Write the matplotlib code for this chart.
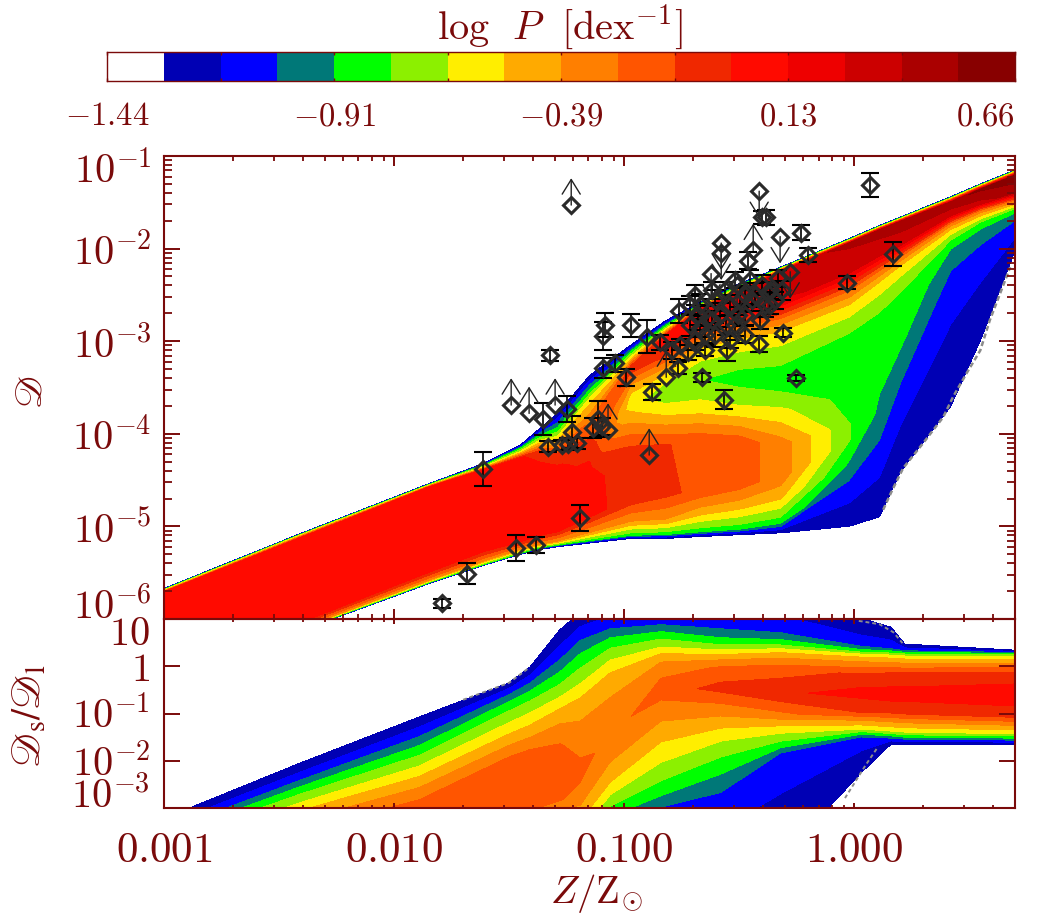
import matplotlib
matplotlib.use('Agg')
import matplotlib.pyplot as plt
from matplotlib.colors import ListedColormap, BoundaryNorm
from matplotlib.ticker import LogLocator, NullFormatter
import numpy as np

plt.rcParams['mathtext.fontset'] = 'cm'
plt.rcParams['font.family'] = ['DejaVu Sans']

dark_red = '#7a0a0a'
W, H = 1052.0, 921.0

# colour bar
bar_colors = ['#ffffff', '#0000b4', '#0000ff', '#007878', '#00ff00', '#8cf000', '#ffee00', '#ffaa00',
              '#ff7f00', '#ff5500', '#f02800', '#ff0a00', '#ee0000', '#cc0000', '#aa0000', '#880000']
bar_min, bar_max = -1.44, 0.66
bar_labels = ['$-1.44$', '$-0.91$', '$-0.39$', '$0.13$', '$0.66$']

# density map upper panel, one row per column, edges of the band and features inside it
top_logz = [-3.0, -2.41, -1.84, -1.61, -1.45, -1.37, -1.29, -1.15, -0.97, -0.82, -0.67, -0.50, -0.32, -0.02, 0.11, 0.20, 0.42, 0.55, 0.70]
top_logd = [
    [-5.67, -5.68, -5.69, -5.71, -6.01, -6.12, -6.23, -6.34, -6.39, -6.44, -6.55, -6.64, -6.66, -6.67],
    [-5.08, -5.09, -5.10, -5.13, -5.36, -5.47, -5.63, -5.74, -5.85, -5.96, -6.03, -6.10, -6.12, -6.13],
    [-4.53, -4.54, -4.55, -4.57, -4.77, -4.88, -4.99, -5.09, -5.20, -5.31, -5.47, -5.57, -5.60, -5.61],
    [-4.32, -4.34, -4.36, -4.39, -4.55, -4.66, -4.77, -4.88, -4.99, -5.09, -5.25, -5.37, -5.41, -5.42],
    [-4.12, -4.16, -4.20, -4.26, -4.45, -4.55, -4.66, -4.77, -4.88, -4.99, -5.15, -5.24, -5.29, -5.30],
    [-3.95, -4.03, -4.09, -4.20, -4.39, -4.50, -4.61, -4.72, -4.82, -4.93, -5.08, -5.19, -5.23, -5.25],
    [-3.78, -3.96, -4.05, -4.23, -4.39, -4.50, -4.61, -4.72, -4.82, -4.93, -5.04, -5.16, -5.20, -5.22],
    [-3.37, -3.55, -3.64, -3.85, -3.96, -4.07, -4.18, -4.28, -4.39, -4.61, -4.88, -5.07, -5.15, -5.18],
    [-3.04, -3.12, -3.18, -3.27, -3.33, -3.44, -3.58, -3.67, -3.78, -4.18, -4.72, -4.95, -5.09, -5.13],
    [-2.78, -2.84, -2.88, -2.94, -3.10, -3.26, -3.40, -3.55, -3.74, -4.12, -4.66, -4.93, -5.08, -5.13],
    [-2.58, -2.60, -2.62, -2.66, -2.83, -2.97, -3.10, -3.42, -3.72, -4.07, -4.61, -4.84, -5.05, -5.11],
    [-2.38, -2.40, -2.43, -2.47, -2.68, -2.86, -3.01, -3.40, -3.74, -4.07, -4.55, -4.77, -5.02, -5.09],
    [-2.20, -2.21, -2.22, -2.25, -2.58, -2.77, -2.93, -3.42, -3.76, -4.12, -4.48, -4.69, -4.95, -5.07],
    [-1.89, -1.90, -1.91, -1.94, -2.25, -2.47, -2.64, -3.04, -3.58, -3.90, -4.07, -4.34, -4.50, -5.00],
    [-1.75, -1.76, -1.77, -1.80, -2.07, -2.25, -2.39, -2.83, -3.20, -3.47, -3.74, -3.96, -4.12, -4.90],
    [-1.66, -1.67, -1.68, -1.71, -1.96, -2.10, -2.21, -2.56, -2.83, -3.04, -3.26, -3.47, -3.74, -4.42],
    [-1.44, -1.45, -1.46, -1.50, -1.64, -1.73, -1.81, -1.94, -2.04, -2.14, -2.29, -2.50, -2.83, -3.71],
    [-1.30, -1.31, -1.32, -1.36, -1.51, -1.59, -1.66, -1.73, -1.82, -1.91, -2.02, -2.18, -2.45, -2.99],
    [-1.15, -1.16, -1.17, -1.21, -1.39, -1.48, -1.53, -1.58, -1.63, -1.67, -1.73, -1.82, -1.91, -2.02],
]
top_logp = [
    [-1.31, -0.85, -0.58, 0.08, 0.08, 0.08, 0.08, 0.08, 0.08, 0.08, 0.08, -0.35, -0.85, -1.31],
    [-1.31, -0.85, -0.58, 0.08, 0.08, 0.08, 0.08, 0.08, 0.08, 0.08, 0.08, -0.35, -0.85, -1.31],
    [-1.31, -0.85, -0.58, 0.08, 0.08, 0.08, 0.08, 0.08, 0.08, 0.08, 0.08, -0.35, -0.85, -1.31],
    [-1.31, -0.85, -0.58, 0.08, 0.08, 0.08, 0.08, 0.08, 0.08, 0.08, 0.08, -0.35, -0.85, -1.31],
    [-1.31, -0.85, -0.58, 0.02, 0.08, 0.08, 0.08, 0.08, 0.08, 0.08, 0.08, -0.35, -0.85, -1.31],
    [-1.31, -0.85, -0.58, -0.05, 0.05, 0.08, 0.08, 0.08, 0.08, 0.08, 0.08, -0.35, -0.85, -1.31],
    [-1.31, -0.85, -0.58, -0.08, 0.04, 0.08, 0.08, 0.08, 0.08, 0.08, 0.08, -0.40, -0.85, -1.31],
    [-1.31, -0.85, -0.58, -0.30, -0.20, -0.12, -0.05, 0.0, 0.03, 0.05, 0.05, -0.40, -0.85, -1.31],
    [-1.31, -0.85, -0.58, -0.10, -0.10, -0.35, -0.55, -0.60, -0.50, -0.08, -0.06, -0.40, -0.85, -1.31],
    [-1.31, -0.85, -0.58, 0.05, 0.0, -0.35, -0.60, -0.75, -0.60, -0.12, -0.10, -0.40, -0.85, -1.31],
    [-1.31, -0.85, -0.58, 0.20, 0.10, -0.30, -0.58, -0.78, -0.60, -0.17, -0.16, -0.45, -0.85, -1.31],
    [-1.31, -0.85, -0.58, 0.28, 0.15, -0.30, -0.58, -0.85, -0.62, -0.20, -0.20, -0.45, -0.85, -1.31],
    [-1.31, -0.85, -0.58, 0.35, 0.25, -0.30, -0.58, -0.88, -0.62, -0.32, -0.32, -0.50, -0.85, -1.31],
    [-1.31, -0.85, -0.58, 0.42, 0.30, -0.30, -0.58, -0.88, -0.85, -0.78, -0.78, -0.95, -1.05, -1.31],
    [-1.31, -0.85, -0.58, 0.45, 0.30, -0.30, -0.58, -0.88, -0.88, -0.90, -0.94, -1.00, -1.07, -1.31],
    [-1.31, -0.85, -0.58, 0.48, 0.30, -0.30, -0.58, -0.85, -0.87, -0.90, -0.97, -1.05, -1.13, -1.31],
    [-1.31, -0.85, -0.58, 0.50, 0.30, -0.30, -0.58, -0.85, -0.95, -1.00, -1.07, -1.12, -1.18, -1.31],
    [-1.31, -0.85, -0.58, 0.55, 0.35, -0.30, -0.58, -0.85, -0.95, -1.02, -1.08, -1.13, -1.20, -1.31],
    [-1.31, -0.85, -0.58, 0.60, 0.45, -0.30, -0.58, -0.85, -0.95, -1.02, -1.08, -1.13, -1.20, -1.31],
]

# density map lower panel
low_logz = [-2.89, -2.41, -1.89, -1.50, -1.41, -1.28, -1.19, -1.06, -0.84, -0.58, -0.32, 0.03, 0.16, 0.22, 0.70]
low_logr = [
    [-3.0, -3.25, -3.46, -3.74, -3.89, -4.10, -4.52, -4.95, -5.37, -5.58, -5.79, -6.0, -6.22],
    [-2.05, -2.36, -2.62, -2.96, -3.15, -3.57, -3.99, -4.42, -4.84, -5.05, -5.26, -5.47, -5.69],
    [-1.07, -1.41, -1.77, -2.20, -2.45, -2.94, -3.46, -4.10, -4.52, -4.84, -5.05, -5.26, -5.47],
    [-0.35, -0.54, -0.82, -1.29, -1.56, -2.03, -2.51, -3.04, -3.68, -4.10, -4.42, -4.63, -4.84],
    [-0.02, -0.29, -0.61, -1.09, -1.39, -1.88, -2.36, -2.94, -3.46, -3.89, -4.21, -4.42, -4.63],
    [0.77, 0.24, -0.25, -0.76, -1.03, -1.67, -2.20, -2.83, -3.15, -3.57, -3.89, -4.10, -4.31],
    [1.15, 0.66, 0.13, -0.50, -0.82, -1.67, -2.20, -2.72, -3.08, -3.46, -3.78, -3.99, -4.21],
    [1.40, 0.87, 0.51, 0.03, -0.29, -1.03, -1.45, -1.88, -2.30, -2.62, -3.08, -3.46, -3.78],
    [1.51, 0.94, 0.66, 0.34, 0.20, -0.08, -0.50, -0.97, -1.35, -1.88, -2.62, -3.08, -3.46],
    [1.61, 0.87, 0.51, 0.30, 0.20, -0.02, -0.46, -0.86, -1.18, -1.45, -2.09, -2.83, -4.52],
    [1.61, 0.77, 0.49, 0.34, 0.24, -0.04, -0.57, -1.03, -1.18, -1.35, -1.67, -1.88, -4.10],
    [1.02, 0.45, 0.32, 0.24, 0.15, -0.18, -0.57, -0.97, -1.18, -1.31, -1.41, -1.52, -2.26],
    [0.83, 0.39, 0.30, 0.22, 0.13, -0.18, -0.61, -0.97, -1.22, -1.35, -1.45, -1.54, -1.65],
    [0.47, 0.34, 0.28, 0.20, 0.11, -0.18, -0.61, -0.99, -1.24, -1.37, -1.48, -1.56, -1.65],
    [0.34, 0.30, 0.26, 0.20, 0.11, -0.18, -0.65, -1.05, -1.29, -1.41, -1.50, -1.58, -1.65],
]
low_peak = [
    [-0.25, -0.25, -0.25], [-0.22, -0.20, -0.20], [-0.20, -0.20, -0.20], [-0.20, -0.13, -0.20],
    [-0.20, -0.13, -0.20], [-0.25, -0.15, -0.25], [-0.30, -0.22, -0.30], [-0.33, -0.30, -0.36],
    [-0.30, -0.20, -0.33], [-0.25, -0.08, -0.30], [-0.20, -0.02, -0.30], [-0.10, 0.05, -0.12],
    [-0.08, 0.06, -0.10], [-0.08, 0.06, -0.10], [-0.05, 0.08, -0.08],
]
low_upper_p = [-1.31, -1.10, -0.85, -0.60, -0.45]
low_lower_p = [-0.45, -0.60, -0.85, -1.10, -1.31]

# gray speckle along the edges of the maps
speck_top_logz = [0.126, 0.165, 0.213, 0.30, 0.387, 0.43, 0.49, 0.548, 0.59, 0.635, 0.678]
speck_top_logd = [-4.82, -4.61, -4.37, -4.10, -3.82, -3.60, -3.34, -3.10, -2.77, -2.48, -2.20]
speck_low_a_logz = [-0.04, 0.004, 0.05, 0.10]
speck_low_a_logr = [-2.79, -2.45, -2.09, -1.73]
speck_low_b_logz = [0.02, 0.11, 0.17, 0.21]
speck_low_b_logr = [0.96, 0.89, 0.72, 0.49]
speck_low_c_logz = [-1.70, -1.50, -1.41]
speck_low_c_logr = [-0.71, -0.35, -0.02]

# observations with error bars
err_logz = [-1.613, -1.191, -1.47, -1.383, -1.683, -1.791, -1.322, -1.352, -1.248, -1.226, -1.33, -1.27, -1.204, -1.243,
            -1.113, -1.135, -1.096, -0.991, -1.091, -1.039, -1.083, -1.09, -0.97, -0.90, -0.878, -0.765, -0.791, -0.661,
            -0.843, -0.413, -0.552, -0.565, -0.309, -0.252, -0.03, 0.17, 0.07, -0.23, -0.20, -0.383, -0.40, -0.461,
            -0.761, -0.691, -0.67, -0.635, -0.604, -0.713, -0.583, -0.539, -0.496, -0.517, -0.474, -0.43, -0.40, -0.452,
            -0.365, -0.561, -0.648, -0.691, -0.604, -0.474, -0.539, -0.343, -0.757, -0.722, -0.648, -0.387,
            -0.617, -0.678, -0.557, -0.443, -0.517, -0.365, -0.474, -0.617, -0.713, -0.313, -0.409, -0.67, -0.504, -0.33]
err_logd = [-4.38, -4.91, -5.23, -5.20, -5.51, -5.83, -3.15, -3.84, -3.73, -3.98, -4.14, -4.12, -4.10, -4.11,
            -3.84, -3.94, -3.92, -3.39, -3.29, -3.24, -2.83, -2.94, -2.83, -2.95, -3.55, -3.29, -3.10, -3.39,
            -3.01, -3.03, -3.10, -3.63, -2.91, -3.40, -2.37, -2.06, -1.31, -1.83, -2.07, -1.66, -1.66, -2.13,
            -2.67, -2.50, -2.61, -2.75, -2.56, -2.83, -2.72, -2.61, -2.56, -2.83, -2.72, -2.50, -2.39, -2.34,
            -2.45, -2.45, -2.93, -2.99, -2.93, -2.93, -2.99, -2.56, -3.04, -3.12, -3.10, -2.61,
            -2.45, -2.72, -2.83, -2.56, -2.34, -2.61, -2.50, -2.77, -2.61, -2.45, -2.77, -2.86, -2.72, -2.32]
err_dex = [0.18, 0.14, 0.14, 0.09, 0.11, 0.05, 0.06, 0.17, 0.14, 0.17, 0.06, 0.05, 0.06, 0.06,
           0.19, 0.11, 0.09, 0.09, 0.11, 0.09, 0.13, 0.15, 0.12, 0.18, 0.09, 0.06, 0.09, 0.05,
           0.08, 0.09, 0.11, 0.10, 0.05, 0.03, 0.07, 0.13, 0.13, 0.08, 0.08, 0.08, 0.07, 0.09,
           0.13, 0.11, 0.12, 0.13, 0.11, 0.11, 0.13, 0.11, 0.13, 0.11, 0.11, 0.13, 0.11, 0.11,
           0.09, 0.09, 0.09, 0.11, 0.13, 0.09, 0.08, 0.09, 0.06, 0.08, 0.06, 0.13,
           0.09, 0.11, 0.10, 0.11, 0.09, 0.10, 0.10, 0.10, 0.10, 0.10, 0.10, 0.10, 0.09, 0.09]

# lower limits (arrow up) and upper limits (arrow down)
up_logz = [-1.491, -1.413, -1.30, -1.07, -0.891, -1.23, -0.817, -0.439]
up_logd = [-3.69, -3.78, -3.69, -3.96, -4.23, -1.53, -3.39, -2.02]
down_logz = [-0.413, -0.578, -0.578, -0.622, -0.322, -0.278, -0.374, -0.509]
down_logd = [-1.38, -1.94, -2.05, -2.27, -1.87, -2.25, -2.48, -2.39]
arrow_dex = 0.29

top_ticks_y = [-1, -2, -3, -4, -5, -6]
top_labels_y = ['$10^{-1}$', '$10^{-2}$', '$10^{-3}$', '$10^{-4}$', '$10^{-5}$', '$10^{-6}$']
top_label_drop = [27, 16, 16, 16, 16, 0]
low_ticks_y = [1, 0, -1, -2, -3]
low_labels_y = ['$10$', '$1$', '$10^{-1}$', '$10^{-2}$', '$10^{-3}$']
low_label_drop = [26, 15, 14, 15, 0]
x_ticks = [0.001, 0.01, 0.1, 1.0]
x_labels = ['$0.001$', '$0.010$', '$0.100$', '$1.000$']

levels = np.linspace(bar_min, bar_max, len(bar_colors) + 1)
cmap = ListedColormap(bar_colors)
norm = BoundaryNorm(levels, cmap.N)


def rect(left, top, right, bottom):
    return [left / W, 1 - bottom / H, (right - left) / W, (bottom - top) / H]


fig = plt.figure(figsize=(W / 100, H / 100), dpi=100)

# maps go on plain axes in log units, below the real log axes
map_top = fig.add_axes(rect(164, 156, 1015, 619))
map_low = fig.add_axes(rect(164, 619, 1015, 808))
X = np.tile(top_logz, (np.shape(top_logd)[1], 1)).T
map_top.contourf(X, np.array(top_logd), np.array(top_logp), levels=levels, cmap=cmap, norm=norm)
map_top.plot(speck_top_logz, speck_top_logd, color='#8c8c8c', lw=1.8, ls=(0, (2, 1.2)))
map_top.set_xlim(-3, np.log10(5))
map_top.set_ylim(-6, -1)
map_top.axis('off')

low_p = [low_upper_p + p + low_lower_p for p in low_peak]
X = np.tile(low_logz, (np.shape(low_logr)[1], 1)).T
map_low.contourf(X, np.array(low_logr), np.array(low_p), levels=levels, cmap=cmap, norm=norm)
for zz, rr in [(speck_low_a_logz, speck_low_a_logr), (speck_low_b_logz, speck_low_b_logr), (speck_low_c_logz, speck_low_c_logr)]:
    map_low.plot(zz, rr, color='#8c8c8c', lw=1.4, ls=(0, (2, 1.5)))
map_low.set_xlim(-3, np.log10(5))
map_low.set_ylim(-3, 1)
map_low.axis('off')

ax = fig.add_axes(rect(164, 156, 1015, 619))
ax2 = fig.add_axes(rect(164, 619, 1015, 808))
for a in (ax, ax2):
    a.patch.set_alpha(0)
    a.set_xscale('log')
    a.set_yscale('log')
    a.set_xlim(0.001, 5)
    for s in a.spines.values():
        s.set_linewidth(1.5)
        s.set_color(dark_red)
    a.set_xticks(x_ticks)
    a.xaxis.set_minor_locator(LogLocator(base=10, subs=range(2, 10), numticks=20))
    a.xaxis.set_minor_formatter(NullFormatter())
ax.set_ylim(1e-6, 1e-1)
ax2.set_ylim(1e-3, 10)

ax.set_yticks([10.0 ** v for v in top_ticks_y])
ax.yaxis.set_minor_locator(LogLocator(base=10, subs=range(2, 10), numticks=20))
ax.yaxis.set_minor_formatter(NullFormatter())
ax.set_xticklabels([])
ax.set_yticklabels([])
ax.tick_params(axis='x', which='major', direction='in', top=True, right=True, length=7.2, width=1.4, color=dark_red)
ax.tick_params(axis='x', which='minor', direction='in', top=True, length=3.6, width=1.3, color=dark_red)
ax.tick_params(axis='y', which='major', direction='in', right=True, length=11.5, width=1.4, color=dark_red)
ax.tick_params(axis='y', which='minor', direction='in', right=True, length=5.8, width=1.3, color=dark_red)

ax2.set_yticks([10.0 ** v for v in low_ticks_y])
ax2.yaxis.set_minor_locator(plt.NullLocator())
ax2.set_yticklabels([])
ax2.set_xticklabels(x_labels)
ax2.tick_params(axis='x', which='major', direction='in', top=True, length=3.6, width=1.4, color=dark_red,
                labelsize=31, labelcolor=dark_red, pad=15)
ax2.tick_params(axis='x', which='minor', direction='in', top=True, length=2.2, width=1.3, color=dark_red)
ax2.tick_params(axis='y', which='major', direction='in', right=True, length=11.5, width=1.4, color=dark_red)

for v, lab, drop in zip(top_ticks_y, top_labels_y, top_label_drop):
    ax.annotate(lab, xy=(0, 10.0 ** v), xycoords=('axes fraction', 'data'), xytext=(-9, -drop / 1.389),
                textcoords='offset points', ha='right', va='baseline', fontsize=29, color=dark_red)
for v, lab, drop in zip(low_ticks_y, low_labels_y, low_label_drop):
    ax2.annotate(lab, xy=(0, 10.0 ** v), xycoords=('axes fraction', 'data'), xytext=(-10, -drop / 1.389),
                 textcoords='offset points', ha='right', va='baseline', fontsize=29, color=dark_red)

# observations
z = 10.0 ** np.array(err_logz)
d = 10.0 ** np.array(err_logd)
lo = d - 10.0 ** (np.array(err_logd) - np.array(err_dex))
hi = 10.0 ** (np.array(err_logd) + np.array(err_dex)) - d
ax.errorbar(z, d, yerr=[lo, hi], fmt='none', ecolor='black', elinewidth=1.2, capsize=6.7, capthick=1.5, zorder=5)
for zz, dd, sign in [(up_logz, up_logd, 1), (down_logz, down_logd, -1)]:
    for a_z, a_d in zip(zz, dd):
        ax.annotate('', xy=(10.0 ** a_z, 10.0 ** (a_d + sign * arrow_dex)), xytext=(10.0 ** a_z, 10.0 ** a_d),
                    arrowprops=dict(arrowstyle='->,head_length=10.5,head_width=6.5', mutation_scale=1, lw=1.0,
                                    color='#222222', shrinkA=0, shrinkB=0), zorder=5)
all_z = 10.0 ** np.array(err_logz + up_logz + down_logz)
all_d = 10.0 ** np.array(err_logd + up_logd + down_logd)
ax.plot(all_z, all_d, ls='none', marker='D', ms=8.2, mfc='none', mec='#2a2a2a', mew=2.2, zorder=6)

# y and x titles
fig.text(31 / W, 1 - 392 / H, r'$\mathscr{D}$', math_fontfamily='stix', color=dark_red, fontsize=27, rotation=90,
         ha='center', va='center')
fig.text(30 / W, 1 - 716 / H, r'$\mathscr{D}_{\mathrm{s}}/\mathscr{D}_{\mathrm{l}}$', math_fontfamily='stix',
         color=dark_red, fontsize=28.5, rotation=90, ha='center', va='center')
fig.text(597 / W, 1 - 893 / H, r'$Z/\mathrm{Z}_{\odot}$', color=dark_red, fontsize=28, ha='center', va='center')

# colour bar
cax = fig.add_axes(rect(107, 52.5, 1015, 81))
cax.pcolormesh(levels, [0, 1], 0.5 * (levels[:-1] + levels[1:])[None, :], cmap=cmap, norm=norm)
cax.set_yticks([])
cax.set_xlim(bar_min, bar_max)
cax.set_xticks(levels[::4])
cax.set_xticklabels(bar_labels)
cax.set_xticks(levels[2::4], minor=True)
cax.tick_params(axis='x', which='major', direction='in', top=True, length=2, width=1, color=dark_red,
                labelsize=23.5, labelcolor=dark_red, pad=13)
cax.tick_params(axis='x', which='minor', direction='in', top=True, length=2, width=1, color=dark_red)
cax.get_xticklabels()[-1].set_ha('right')
for s in cax.spines.values():
    s.set_linewidth(1.0)
    s.set_color(dark_red)
fig.text(560 / W, 1 - 27 / H, r'$\mathrm{log}\ \ P\ \ [\mathrm{dex}^{-1}]$', color=dark_red, fontsize=29,
         ha='center', va='center')

fig.savefig('out.png', dpi=100)
